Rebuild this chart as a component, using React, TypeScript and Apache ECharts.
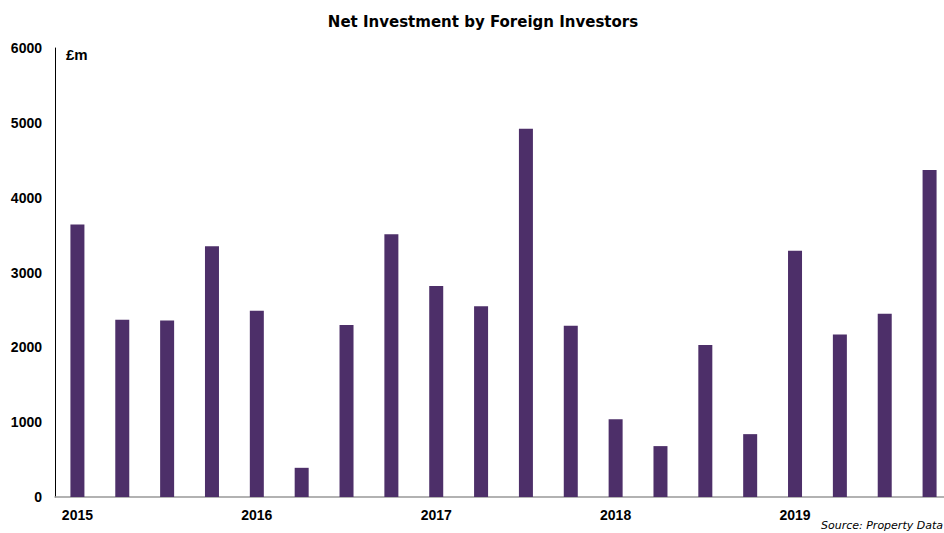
import React, { useEffect, useRef } from "react";
import * as echarts from "echarts";

const quarters = [
  "2015 Q1", "2015 Q2", "2015 Q3", "2015 Q4",
  "2016 Q1", "2016 Q2", "2016 Q3", "2016 Q4",
  "2017 Q1", "2017 Q2", "2017 Q3", "2017 Q4",
  "2018 Q1", "2018 Q2", "2018 Q3", "2018 Q4",
  "2019 Q1", "2019 Q2", "2019 Q3", "2019 Q4",
];
const netInvestment = [
  3640, 2370, 2360, 3350,
  2490, 390, 2300, 3510,
  2820, 2550, 4920, 2290,
  1040, 680, 2030, 840,
  3290, 2170, 2450, 4370,
];
const yTicks = [0, 1000, 2000, 3000, 4000, 5000, 6000];

export default function App() {
  const ref = useRef<HTMLDivElement>(null);
  useEffect(() => {
    document.body.style.margin = "0";
    document.body.style.overflow = "hidden";
    if (!ref.current) return;
    const chart = echarts.init(ref.current, null, { renderer: "svg" });
    chart.setOption({
      animation: false,
      backgroundColor: "#ffffff",
      title: {
        text: "Net Investment by Foreign Investors",
        left: 478,
        textAlign: "center",
        top: 9,
        textStyle: { fontFamily: "DejaVu Sans", fontWeight: "bold", fontSize: 15, color: "#000" },
      },
      grid: { left: 55, right: 0, top: 48, bottom: 36, containLabel: false },
      xAxis: {
        type: "category",
        data: quarters,
        axisLine: { show: true, lineStyle: { color: "#999999", width: 1.5 } },
        axisTick: { show: false },
        axisLabel: {
          interval: 0,
          margin: 11,
          formatter: (v: string) => (v.endsWith("Q1") ? v.slice(0, 4) : ""),
          fontFamily: "Liberation Sans, Arial",
          fontWeight: "bold",
          fontSize: 14,
          color: "#000",
        },
      },
      yAxis: {
        type: "value",
        min: yTicks[0],
        max: yTicks[yTicks.length - 1],
        interval: 1000,
        splitLine: { show: false },
        axisLine: { show: true, lineStyle: { color: "#000", width: 1 } },
        axisTick: { show: false },
        axisLabel: {
          margin: 13,
          formatter: (v: number) => String(v),
          fontFamily: "Liberation Sans, Arial",
          fontWeight: "bold",
          fontSize: 14,
          color: "#000",
        },
      },
      graphic: [
        {
          type: "text",
          left: 66,
          top: 47,
          style: { text: "£m", font: "bold 15px 'Liberation Sans', Arial", fill: "#000" },
        },
        {
          type: "text",
          left: 821,
          top: 520,
          style: { text: "Source: Property Data", font: "italic 11px 'DejaVu Sans', Verdana", fill: "#000" },
        },
      ],
      series: [
        {
          type: "bar",
          data: netInvestment,
          barWidth: 14,
          itemStyle: { color: "#4d2f69" },
        },
      ],
    });
    return () => chart.dispose();
  }, []);
  return <div ref={ref} style={{ width: 952, height: 533 }} />;
}
